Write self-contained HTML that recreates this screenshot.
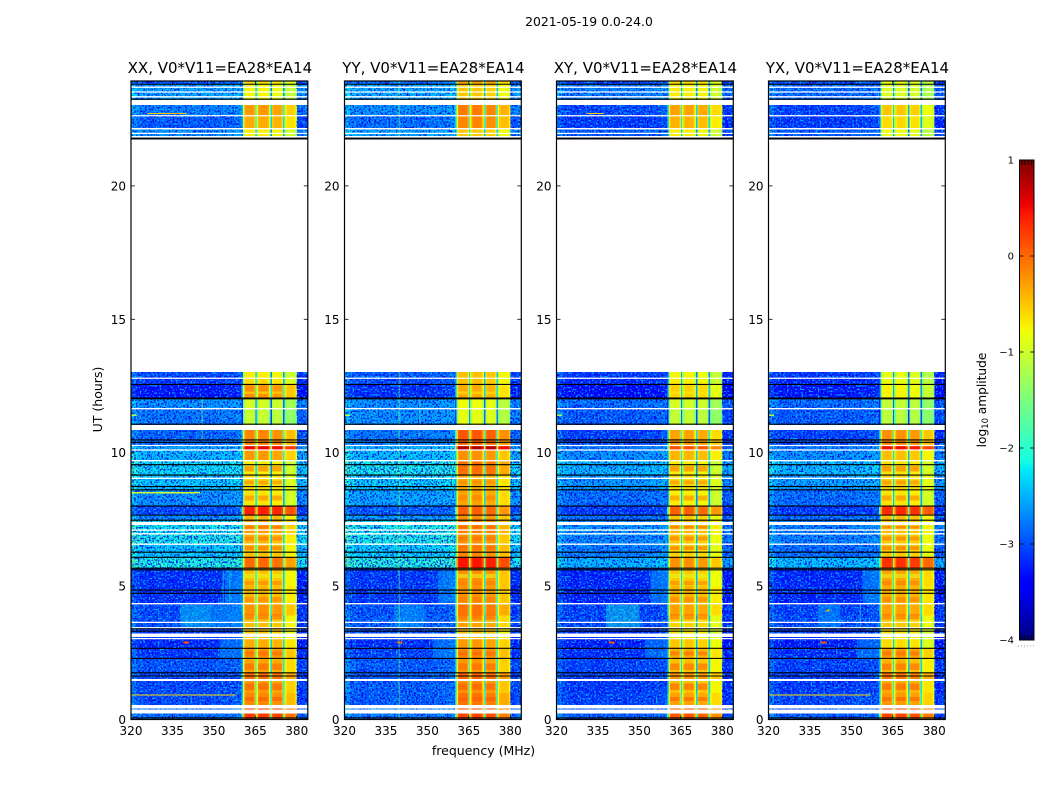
<!DOCTYPE html>
<html>
<head>
<meta charset="utf-8">
<title>2021-05-19 amplitude waterfall</title>
<style>
html,body{margin:0;padding:0;background:#fff;width:1050px;height:800px;overflow:hidden}
svg{display:block}
text{font-family:"DejaVu Sans","Liberation Sans",sans-serif;fill:#000}
</style>
</head>
<body>
<svg id="fig" xmlns="http://www.w3.org/2000/svg" width="1050" height="800" viewBox="0 0 1050 800">
  <defs>
    <filter id="grainDark" x="0" y="0" width="100%" height="100%" color-interpolation-filters="sRGB">
      <feTurbulence type="fractalNoise" baseFrequency="0.55" numOctaves="1" seed="4"/>
      <feColorMatrix type="matrix" values="0 0 0 0 0  0 0 0 0 0  0 0 0 0 0.9  8 0 0 0 -3.9"/>
    </filter>
    <filter id="grainLight" x="0" y="0" width="100%" height="100%" color-interpolation-filters="sRGB">
      <feTurbulence type="fractalNoise" baseFrequency="0.55" numOctaves="1" seed="11"/>
      <feColorMatrix type="matrix" values="0 0 0 0 0  0 0 0 0 0.75  0 0 0 0 1  8 0 0 0 -4.4"/>
    </filter>
    <linearGradient id="jetGradient" x1="0" y1="1" x2="0" y2="0"></linearGradient>
  </defs>
  <text x="589" y="26" font-size="12.4" text-anchor="middle">2021-05-19 0.0-24.0</text>
  <text x="483.5" y="755" font-size="12.5" text-anchor="middle">frequency (MHz)</text>
  <text transform="translate(102,399.5) rotate(-90)" font-size="12.5" text-anchor="middle">UT (hours)</text>
  <text transform="translate(986,400) rotate(-90)" font-size="12.2" text-anchor="middle">log<tspan font-size="8.4" dy="2">10</tspan><tspan dy="-2"> amplitude</tspan></text>
  <g id="panels"></g>
  <g id="colorbar"></g>
</svg>
<script>
/* ---------- chart data ---------- */
var panelTitles = ["XX, V0*V11=EA28*EA14","YY, V0*V11=EA28*EA14","XY, V0*V11=EA28*EA14","YX, V0*V11=EA28*EA14"];
var freqTicks = [320,335,350,365,380];
var hourTicks = [0,5,10,15,20];
var colorbarTicks = [1,0,-1,-2,-3,-4];

/* start of each frequency channel, MHz */
var channelStarts = [320,322,324,326,328,330,332,334,336,338,340,342,344,346,348,350,352,354,356,358,
  360,360.5,361,361.5,362,362.5,363,363.5,364,364.5,365,365.5,366,366.5,367,367.5,368,368.5,369,369.5,
  370,370.5,371,371.5,372,372.5,373,373.5,374,374.5,375,375.5,376,376.5,377,377.5,378,378.5,379,379.5,
  380,382];
/* relative gain (log10) of each channel */
var channelGain = [0.25,0.05,0,-0.05,0,0.03,0,-0.03,0,0.02,0,0.03,0,-0.02,0,0.02,0.04,0.04,0.06,0.12,
  -2.2,-0.7,-0.1,0,0,0,0,0,0,-0.2,-1.8,-0.7,-0.1,0,0,0,0,0,0,-0.1,
  -0.5,-2,-0.2,-0.05,-0.05,-0.05,-0.05,-0.05,-0.05,-0.2,-1.9,-0.7,-0.4,-0.3,-0.3,-0.3,-0.3,-0.3,-0.35,-0.55,
  -0.15,-0.05];

/* top edge of each time band, hours (last band runs down to 0) */
var bandTops = [23.93,23.81,23.03,22.63,22.17,21.76,13.02,12.79,12.56,12.04,11.65,11.07,10.86,10.48,10.27,10.1,9.7,9.16,8.61,8,7.66,7.47,6.96,6.57,6.08,5.67,5,4.34,3.9,3.4,3.03,2.67,2.29,1.75,1.45,1,0.54,0.23];

/* log10 amplitude of each band: below 360 MHz and above 380 (low), 360-380 MHz (high) */
var lowXX  = [-2.9,-2.5,-2.7,-2.9,-2.6,null,-3,-3.1,-3.3,-2.6,-2.75,-2.7,-2.85,-2.8,-2.5,-2.4,-2.2,-2.3,-2.6,-3,-2.6,-2.15,-2.1,-2.3,-2.05,-3.15,-3.15,-3,-2.95,-3.1,-3.2,-3.1,-2.95,-3,-3,-3,-2.8,-2.8];
var highXX = [-0.6,-0.75,-0.25,-0.35,-0.7,null,-0.7,-0.6,-0.2,-0.95,-1.05,-0.95,-0.15,-0.1,0.55,-0.25,-0.7,-0.6,-0.65,0.4,-0.4,-0.25,-0.4,-0.45,0,-0.45,-0.4,-0.2,-0.45,-0.5,-0.35,-0.2,-0.3,0,-0.25,-0.15,0.25,0.25];
var lowYY  = [-2.8,-2.45,-2.6,-2.8,-2.5,null,-2.9,-3,-3.15,-2.6,-2.6,-2.65,-2.75,-2.7,-2.4,-2.35,-2.1,-2.25,-2.5,-2.9,-2.55,-2.1,-2.05,-2.25,-2,-3.1,-3.1,-2.95,-2.9,-3,-3.15,-3.05,-2.9,-2.9,-2.9,-2.9,-2.7,-2.7];
var highYY = [-0.3,-0.5,-0.1,-0.15,-0.5,null,-0.45,-0.45,-0.35,-0.8,-0.85,-0.75,0.1,0.05,0.8,-0.2,-0.05,-0.35,-0.3,0.05,-0.2,-0.1,-0.2,-0.15,0.45,-0.2,-0.2,-0.05,-0.3,-0.45,-0.25,-0.15,-0.25,0.05,-0.2,-0.05,0.2,0.2];
var lowXY  = [-3,-2.7,-3,-3.1,-2.9,null,-3.1,-3.2,-3.4,-2.8,-2.9,-2.85,-3.05,-3,-2.75,-2.6,-2.4,-2.55,-2.8,-3.1,-2.8,-2.6,-2.65,-2.7,-2.4,-3.2,-3.2,-3.05,-3,-3.15,-3.25,-3.15,-3.05,-3.05,-3.1,-3.05,-2.9,-2.9];
var highXY = [-0.6,-0.7,-0.3,-0.4,-0.7,null,-0.75,-0.7,-0.55,-0.95,-1.05,-1,-0.3,-0.25,0.15,-0.4,-0.7,-0.6,-0.7,0.05,-0.5,-0.4,-0.5,-0.55,-0.2,-0.5,-0.4,-0.3,-0.55,-0.65,-0.5,-0.35,-0.45,-0.2,-0.45,-0.3,0.1,0.1];
var lowYX  = [-3,-2.8,-3.05,-3.1,-2.9,null,-3.1,-3.2,-3.3,-2.8,-2.9,-2.85,-3.05,-3,-2.7,-2.6,-2.35,-2.5,-2.8,-3.1,-2.8,-2.7,-2.7,-2.8,-2.35,-3.2,-3.2,-3.05,-3,-3.15,-3.25,-3.15,-3.05,-3.05,-3.1,-3,-2.9,-2.9];
var highYX = [-0.8,-0.9,-0.5,-0.6,-0.8,null,-0.85,-0.8,-0.75,-1.05,-1.1,-1.05,-0.2,-0.15,0.5,-0.45,-0.65,-0.55,-0.65,0.35,-0.45,-0.45,-0.5,-0.5,0.3,-0.3,-0.35,-0.3,-0.5,-0.65,-0.6,-0.25,-0.4,-0.05,-0.35,-0.25,0.2,0.2];
var lowByPanel = [lowXX,lowYY,lowXY,lowYX];
var highByPanel = [highXX,highYY,highXY,highYX];

/* short time ripples inside the bright sub-bands */
var rippleTop    = [12.3,9.5,8.95,8.4,7.25,6.85,6.5,5.45,5.2,4.6,3.95,2.55,2.1,1.35,0.85];
var rippleBottom = [12.2,9.3,8.8,8.2,7.15,6.7,6.35,5.3,5.05,4.4,3.75,2.4,1.85,1.1,0.7];
var rippleValue  = [-0.7,0,-0.1,-0.1,0,0,0,-0.9,-0.1,-0.1,0,0.05,0.05,0.1,0.1];
var blockStart = [361,366,371];
var blockEnd = [364.5,369.8,374.6];

/* localised features: panel, f0, f1, h-top, h-bottom, value */
var patchPanel = [0,0,1,2,3,0,1,2,3,0,3,0,2,0,0,0,1,1,1,0,3,0,1,2,3,3,0,1,2,3,0,1,2,3];
var patchF0    = [338,349,338,338,338,339,339,339,339,320,320,326,331,345.5,353.2,355.5,339.6,339.6,347,320,341,320,320,320,320,353,352,352,352,352,354,354,354,354];
var patchF1    = [349,360,349,350,346,341,341,341,341,358,357,340,337,346,353.6,356,340,340,347.5,345,342,322,322,322,322,353.5,360,360,360,360,360,360,360,360];
var patchHTop  = [4.3,4.3,4.3,4.3,4.3,2.92,2.92,2.92,2.92,0.94,0.94,22.74,22.74,12,5.6,5.6,23.93,13.02,12,8.52,4.12,11.43,11.43,11.43,11.43,4.3,3.03,3.03,3.03,3.03,5.6,5.6,5.6,5.6];
var patchHBot  = [3.45,3.45,3.45,3.45,3.45,2.84,2.84,2.84,2.84,0.9,0.9,22.69,22.69,10.5,4.3,4.3,21.76,0,10.6,8.48,4.05,11.37,11.37,11.37,11.37,3.4,2.3,2.3,2.3,2.3,4.35,4.35,4.35,4.35];
var patchValue = [-2.2,-2.5,-2.45,-2.1,-2.5,0.1,0.1,0.1,0.1,-0.6,-0.6,-0.5,-0.5,-1.4,-2,-2,-1.6,-1.6,-1.8,-1.0,-0.4,-1.2,-1.2,-1.2,-1.2,-1.9,-2.5,-2.5,-2.5,-2.5,-2.4,-2.4,-2.4,-2.4];

/* flagged time ranges, hours */
var whiteBandTops = [23.22,22.17,21.87,11.04,7.4,3.22,1.52,0.54,0.38];
var whiteBandBottoms = [23.03,22.12,21.81,10.86,7.29,3.1,1.45,0.41,0.23];
var whiteLines = [23.7,23.52,23.34,22.63,21.97,12.79,11.65,10.27,10.1,9.7,9.04,7.1,6.96,6.57,4.34,3.64,3.44,3.03];
var blackLines = [23.81,23.25,21.79,21.76,12.56,12.05,12.02,11.07,10.48,10.39,9.55,9.16,8.73,8.61,8,7.66,7.47,6.27,6.08,5.67,5.61,4.85,4.73,3.4,3.31,2.67,2.29,1.75,1.63,0.06,0];

/* ---------- axis functions ---------- */
var panelLeft = [131,344.5,556.5,768.5];
var panelWidth = 176.8;
var axisTop = 81, axisBottom = 719.5;
var pixelsPerHour = 26.68;
function yOf(h){ return axisBottom - h*pixelsPerHour; }
function xOf(p,f){ return panelLeft[p] + (f-320)/64*panelWidth; }
var cbTop = 160, cbBottom = 640, cbLeft = 1019.5, cbRight = 1034;
function cbY(v){ return cbBottom - (v+4)/5*(cbBottom-cbTop); }

/* ---------- colour map ---------- */
function lerp(t,pts){
  for(var i=1;i<pts.length;i++){
    if(t<=pts[i][0]){
      var a=pts[i-1],b=pts[i];
      return a[1]+(b[1]-a[1])*(t-a[0])/(b[0]-a[0]);
    }
  }
  return pts[pts.length-1][1];
}
function jet(v){
  var t=Math.max(0,Math.min(1,(v+4)/5));
  var r=lerp(t,[[0,0],[0.35,0],[0.66,1],[0.89,1],[1,0.5]]);
  var g=lerp(t,[[0,0],[0.125,0],[0.375,1],[0.64,1],[0.91,0],[1,0]]);
  var b=lerp(t,[[0,0.5],[0.11,1],[0.34,1],[0.65,0],[1,0]]);
  return 'rgb('+Math.round(r*255)+','+Math.round(g*255)+','+Math.round(b*255)+')';
}

/* ---------- drawing ---------- */
var NS='http://www.w3.org/2000/svg';
function el(tag,attrs,parent){
  var n=document.createElementNS(NS,tag);
  for(var k in attrs){ n.setAttribute(k,attrs[k]); }
  parent.appendChild(n);
  return n;
}
var panelsGroup=document.getElementById('panels');

panelTitles.forEach(function(title,p){
  var g=el('g',{},panelsGroup);
  
  
  var L=panelLeft[p], R=L+panelWidth;

  var cells=el('g',{'shape-rendering':'crispEdges'},g);
  
  

  bandTops.forEach(function(top,b){
    if(lowByPanel[p][b]===null){ return; }
    var bottom = b+1<bandTops.length ? bandTops[b+1] : 0;
    var y0=yOf(top), y1=yOf(bottom);
    channelStarts.forEach(function(f,c){
      var fNext = c+1<channelStarts.length ? channelStarts[c+1] : 384;
      var base = (f>=360 && f<380) ? highByPanel[p][b] : lowByPanel[p][b];
      var v = base + channelGain[c];
      var cell=el('rect',{x:xOf(p,f),y:y0,width:xOf(p,fNext)-xOf(p,f)+0.4,height:y1-y0+0.4,fill:jet(v)},cells);
      
      
    });
  });

  rippleTop.forEach(function(t,i){
    blockStart.forEach(function(f,k){
      var rip=el('rect',{x:xOf(p,f),y:yOf(t),width:xOf(p,blockEnd[k])-xOf(p,f),height:yOf(rippleBottom[i])-yOf(t),fill:jet(rippleValue[i]),opacity:0.55,'shape-rendering':'crispEdges'},g);
      
      
    });
  });

  /* grain: measurement noise texture over the quiet part of the band */
  var grain=el('g',{opacity:0.85},g);
  
  
  [[23.93,21.76],[13.02,0]].forEach(function(span){
    ['grainDark','grainLight'].forEach(function(fid){
      el('rect',{x:L,y:yOf(span[0]),width:xOf(p,360)-L,height:yOf(span[1])-yOf(span[0]),filter:'url(#'+fid+')'},grain);
      el('rect',{x:xOf(p,380),y:yOf(span[0]),width:R-xOf(p,380),height:yOf(span[1])-yOf(span[0]),filter:'url(#'+fid+')'},grain);
    });
  });

  patchPanel.forEach(function(pp,i){
    if(pp!==p){ return; }
    var patch=el('rect',{x:xOf(p,patchF0[i]),y:yOf(patchHTop[i]),width:xOf(p,patchF1[i])-xOf(p,patchF0[i]),height:yOf(patchHBot[i])-yOf(patchHTop[i]),fill:jet(patchValue[i]),opacity:patchHTop[i]-patchHBot[i]>0.5?0.4:1,'shape-rendering':'crispEdges'},g);
    
    
  });

  whiteBandTops.forEach(function(t,i){
    var band=el('rect',{x:L,y:yOf(t),width:panelWidth,height:yOf(whiteBandBottoms[i])-yOf(t),fill:'#fff','shape-rendering':'crispEdges'},g);
    
    
  });
  whiteLines.forEach(function(h){
    var line=el('line',{x1:L,x2:R,y1:yOf(h),y2:yOf(h),stroke:'#fff','stroke-width':1.3},g);
    
    
  });
  blackLines.forEach(function(h){
    var line=el('line',{x1:L,x2:R,y1:yOf(h),y2:yOf(h),stroke:'#000','stroke-width':1.1},g);
    
    
  });

  /* ticks and labels */
  freqTicks.forEach(function(f){
    var x=xOf(p,f);
    var tb=el('line',{x1:x,x2:x,y1:axisBottom,y2:axisBottom-4,stroke:'#000','stroke-width':0.8},g);
    
    
    var tt=el('line',{x1:x,x2:x,y1:axisTop,y2:axisTop+4,stroke:'#000','stroke-width':0.8},g);
    
    
    var lab=el('text',{x:x,y:735,'font-size':12,'text-anchor':'middle'},g);
    lab.textContent=String(f);
    
    
  });
  hourTicks.forEach(function(h){
    var y=yOf(h);
    var tl=el('line',{x1:L,x2:L+4,y1:y,y2:y,stroke:'#000','stroke-width':0.8},g);
    
    
    var tr=el('line',{x1:R,x2:R-4,y1:y,y2:y,stroke:'#000','stroke-width':0.8},g);
    
    
    var lab=el('text',{x:L-5,y:y+4.5,'font-size':12,'text-anchor':'end'},g);
    lab.textContent=String(h);
    
    
  });

  var frame=el('rect',{x:L,y:axisTop,width:panelWidth,height:axisBottom-axisTop,fill:'none',stroke:'#000','stroke-width':1.2},g);
  
  

  var ttl=el('text',{x:L+panelWidth/2+0.5,y:73,'font-size':15,'text-anchor':'middle'},g);
  ttl.textContent=title;
  
  
});

/* ---------- colour bar ---------- */
var grad=document.getElementById('jetGradient');
[-4,-3.5,-3.45,-3.375,-3.3,-3,-2.9,-2.5,-2.25,-2.125,-2,-1.5,-1,-0.8,-0.75,-0.5,-0.25,0,0.45,0.55,0.75,1].forEach(function(v){
  el('stop',{offset:(v+4)/5,'stop-color':jet(v)},grad);
});
var cb=document.getElementById('colorbar');
var cbFill=el('rect',{x:cbLeft,y:cbTop,width:cbRight-cbLeft,height:cbBottom-cbTop,fill:'url(#jetGradient)',stroke:'#000','stroke-width':1},cb);


colorbarTicks.forEach(function(v){
  var y=cbY(v);
  var a=el('line',{x1:cbLeft,x2:cbLeft+4,y1:y,y2:y,stroke:'#000','stroke-width':0.8},cb);
  
  
  var b=el('line',{x1:cbRight,x2:cbRight-4,y1:y,y2:y,stroke:'#000','stroke-width':0.8},cb);
  
  
  var t=el('text',{x:1014,y:y+3.5,'font-size':10,'text-anchor':'end'},cb);
  t.textContent=(v<0?'\u2212':'')+Math.abs(v);
  
  
});
[1022,1025,1028.3,1031.6].forEach(function(x){
  var t=el('line',{x1:x,x2:x,y1:cbTop,y2:cbTop+5,stroke:'#000','stroke-width':0.8},cb);
  
  
  var u=el('line',{x1:x,x2:x,y1:cbBottom,y2:cbBottom-5,stroke:'#000','stroke-width':0.8},cb);
  
  
});
[1018,1021,1024,1027,1030,1033].forEach(function(x){
  var d=el('rect',{x:x,y:645.5,width:1,height:1,fill:'#999'},cb);
  
  
});
</script>
</body>
</html>
